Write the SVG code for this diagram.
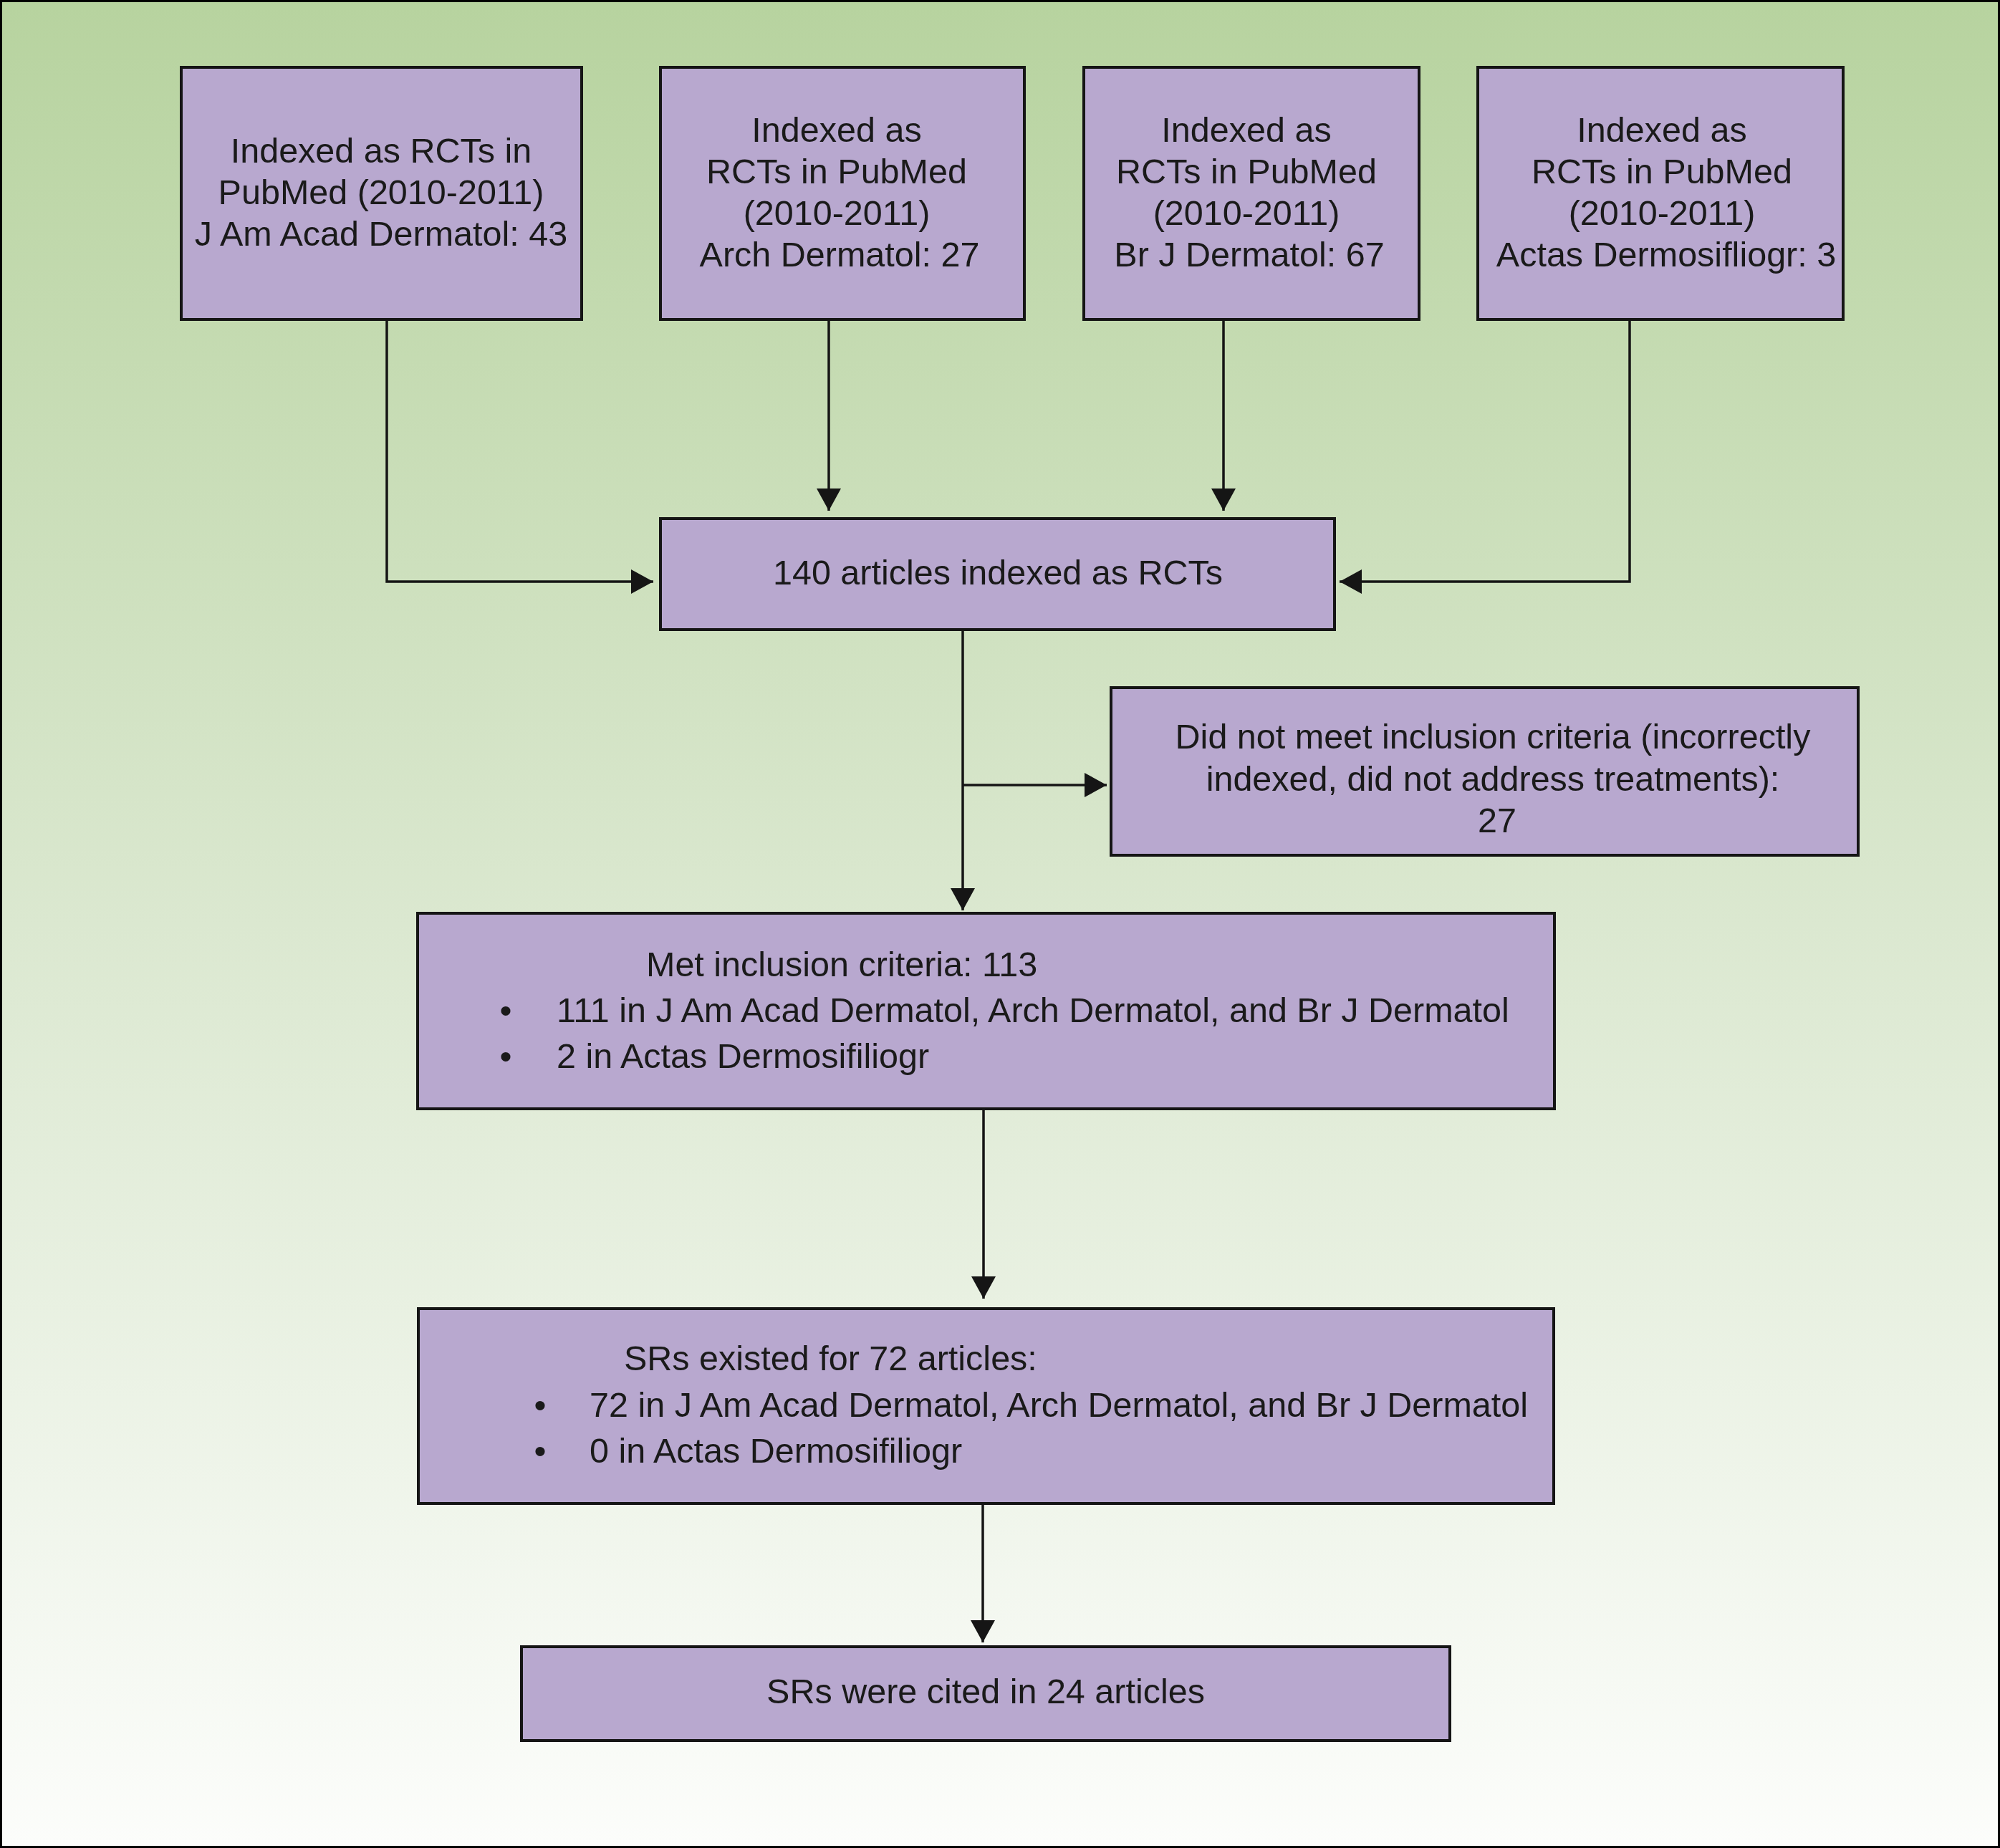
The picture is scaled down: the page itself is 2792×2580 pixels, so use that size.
<svg xmlns="http://www.w3.org/2000/svg" width="2792" height="2580" viewBox="0 0 2792 2580">
  <defs>
    <linearGradient id="bg" x1="0" y1="0" x2="0" y2="1">
      <stop offset="0" stop-color="#b7d39f"/>
      <stop offset="0.5" stop-color="#dbe8d0"/>
      <stop offset="1" stop-color="#fcfdfb"/>
    </linearGradient>
    <marker id="arrow" markerUnits="userSpaceOnUse" markerWidth="32" markerHeight="34" refX="31" refY="17" orient="auto" viewBox="0 0 32 34">
      <path d="M0,0 L31,17 L0,34 Z" fill="#151515"/>
    </marker>
    <style>
      .box { fill: #b8a8cf; stroke: #151515; stroke-width: 4; }
      .t { font-family: "Liberation Sans", Arial, sans-serif; font-size: 48.5px; fill: #1a1a1a; }
      .c { text-anchor: middle; }
      .conn { fill: none; stroke: #151515; stroke-width: 3.5; marker-end: url(#arrow); }
    </style>
  </defs>

  <rect x="1.5" y="1.5" width="2789" height="2577" fill="url(#bg)" stroke="#000" stroke-width="3"/>

  <g id="connectors">
    <path class="conn" d="M540,448 V812 H912"/>
    <path class="conn" d="M1157,448 V713"/>
    <path class="conn" d="M1708,448 V713"/>
    <path class="conn" d="M2275,448 V812 H1870"/>
    <path class="conn" d="M1344,881 V1271"/>
    <path class="conn" d="M1344,1096 H1545"/>
    <path class="conn" d="M1373,1550 V1813"/>
    <path class="conn" d="M1372,2101 V2293"/>
  </g>

  <g id="node-jaad">
    <rect class="box" x="253" y="94" width="559" height="352"/>
    <text class="t c" x="532" y="227">Indexed as RCTs in</text>
    <text class="t c" x="532" y="285">PubMed (2010-2011)</text>
    <text class="t c" x="532" y="343">J Am Acad Dermatol: 43</text>
  </g>

  <g id="node-arch">
    <rect class="box" x="922" y="94" width="508" height="352"/>
    <text class="t c" x="1168" y="198">Indexed as</text>
    <text class="t c" x="1168" y="256">RCTs in PubMed</text>
    <text class="t c" x="1168" y="314">(2010-2011)</text>
    <text class="t c" x="1172" y="372">Arch Dermatol: 27</text>
  </g>

  <g id="node-bjd">
    <rect class="box" x="1513" y="94" width="468" height="352"/>
    <text class="t c" x="1740" y="198">Indexed as</text>
    <text class="t c" x="1740" y="256">RCTs in PubMed</text>
    <text class="t c" x="1740" y="314">(2010-2011)</text>
    <text class="t c" x="1744" y="372">Br J Dermatol: 67</text>
  </g>

  <g id="node-actas">
    <rect class="box" x="2063" y="94" width="510" height="352"/>
    <text class="t c" x="2320" y="198">Indexed as</text>
    <text class="t c" x="2320" y="256">RCTs in PubMed</text>
    <text class="t c" x="2320" y="314">(2010-2011)</text>
    <text class="t c" x="2326" y="372">Actas Dermosifliogr: 3</text>
  </g>

  <g id="node-140">
    <rect class="box" x="922" y="724" width="941" height="155"/>
    <text class="t c" x="1393" y="816">140 articles indexed as RCTs</text>
  </g>

  <g id="node-excluded">
    <rect class="box" x="1551" y="960" width="1043" height="234"/>
    <text class="t c" x="2084" y="1045">Did not meet inclusion criteria (incorrectly</text>
    <text class="t c" x="2084" y="1104">indexed, did not address treatments):</text>
    <text class="t c" x="2090" y="1162">27</text>
  </g>

  <g id="node-met">
    <rect class="box" x="583" y="1275" width="1587" height="273"/>
    <text class="t" x="902" y="1363">Met inclusion criteria: 113</text>
    <text class="t c" x="706" y="1427">•</text>
    <text class="t" x="777" y="1427">111 in J Am Acad Dermatol, Arch Dermatol, and Br J Dermatol</text>
    <text class="t c" x="706" y="1491">•</text>
    <text class="t" x="777" y="1491">2 in Actas Dermosifiliogr</text>
  </g>

  <g id="node-srs-existed">
    <rect class="box" x="584" y="1827" width="1585" height="272"/>
    <text class="t" x="871" y="1913">SRs existed for 72 articles:</text>
    <text class="t c" x="754" y="1978">•</text>
    <text class="t" x="823" y="1978">72 in J Am Acad Dermatol, Arch Dermatol, and Br J Dermatol</text>
    <text class="t c" x="754" y="2042">•</text>
    <text class="t" x="823" y="2042">0 in Actas Dermosifiliogr</text>
  </g>

  <g id="node-srs-cited">
    <rect class="box" x="728" y="2299" width="1296" height="131"/>
    <text class="t c" x="1376" y="2378">SRs were cited in 24 articles</text>
  </g>
</svg>
